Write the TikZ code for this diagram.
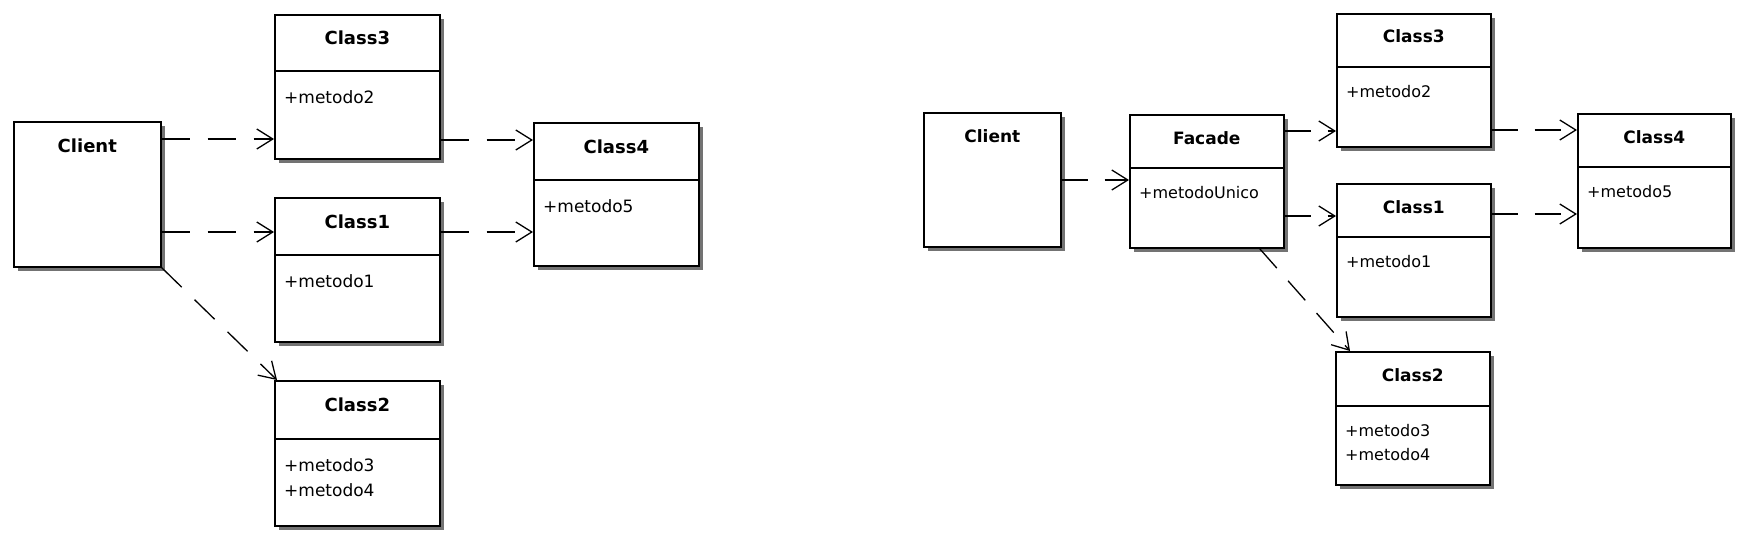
\documentclass[tikz,border=0pt]{standalone}
\usepackage{fontspec}
\setmainfont{DejaVu Sans}
\usetikzlibrary{calc, shadows, arrows.meta}
\tikzstyle{Box} = [draw, line width=1.6pt, fill=white, rectangle, anchor=north west, inner sep=0pt,
  drop shadow={shadow xshift=4.5pt, shadow yshift=-4.5pt, fill=black!55, opacity=1}]
\tikzstyle{Title} = [anchor=base, font=\bfseries\fontsize{18pt}{20pt}\selectfont]
\tikzstyle{Ops} = [anchor=north west, align=left, inner sep=0pt, font=\fontsize{17pt}{25pt}\selectfont]
\tikzstyle{Line} = [line width=1.6pt]
\tikzstyle{Arrow} = [line width=1.3pt, dash pattern=on 28pt off 18pt,
  -{Straight Barb[length=16pt, width=20pt]}]
\newcommand{\titledrop}{31pt}
\newcommand{\opsdrop}{19pt}
% name, position, width, height, divider, title, methods
\newcommand{\umlclass}[7]{%
  \node[Box, minimum width=#3, minimum height=#4] (#1) at #2 {};
  \node[Title] (#1-title) at ([yshift=-\titledrop]#1.north) {#6};
  \draw[Line] ([yshift=-#5]#1.north west) -- ([yshift=-#5]#1.north east);
  \node[Ops] (#1-ops) at ([xshift=10pt, yshift=-#5-\opsdrop]#1.north west) {#7};
}

\begin{document}
\begin{tikzpicture}[x=1pt, y=-1pt]
    \useasboundingbox (0,0) rectangle (1748,535);

    % without facade
    \node[Box, minimum width=147pt, minimum height=145pt] (client) at (13,121) {};
    \node[Title] (client-title) at ([yshift=-\titledrop]client.north) {Client};
    \umlclass{c3}{(274,14)}{165pt}{144pt}{57pt}{Class3}{+metodo2}
    \umlclass{c1}{(274,197)}{165pt}{144pt}{58pt}{Class1}{+metodo1}
    \umlclass{c2}{(274,380)}{165pt}{145pt}{59pt}{Class2}{+metodo3\\+metodo4}
    \umlclass{c4}{(533,122)}{165pt}{143pt}{58pt}{Class4}{+metodo5}

    \draw[Arrow] ([yshift=-18pt]client.north east) -- ([yshift=-125pt]c3.north west);
    \draw[Arrow] ([yshift=-111pt]client.north east) -- ([yshift=-35pt]c1.north west);
    \draw[Arrow] (client.south east) -- ([xshift=3pt]c2.north west);
    \draw[Arrow] ([yshift=-126pt]c3.north east) -- ([yshift=-18pt]c4.north west);
    \draw[Arrow] ([yshift=-35pt]c1.north east) -- ([yshift=-110pt]c4.north west);

    % with facade
    \begin{scope}[Title/.append style={font=\bfseries\fontsize{17pt}{19pt}\selectfont},
        Ops/.append style={font=\fontsize{16pt}{24pt}\selectfont},
        Arrow/.append style={dash pattern=on 26pt off 17pt}]
    \renewcommand{\titledrop}{30pt}
    \renewcommand{\opsdrop}{18pt}
    \node[Box, minimum width=137pt, minimum height=134pt] (clientR) at (923,112) {};
    \node[Title] (clientR-title) at ([yshift=-\titledrop]clientR.north) {Client};
    \umlclass{facade}{(1129,114)}{154pt}{133pt}{54pt}{Facade}{+metodoUnico}
    \umlclass{c3R}{(1336,13)}{154pt}{133pt}{54pt}{Class3}{+metodo2}
    \umlclass{c1R}{(1336,183)}{154pt}{133pt}{54pt}{Class1}{+metodo1}
    \umlclass{c2R}{(1335,351)}{154pt}{133pt}{55pt}{Class2}{+metodo3\\+metodo4}
    \umlclass{c4R}{(1577,113)}{153pt}{134pt}{54pt}{Class4}{+metodo5}

    \draw[Arrow] ([yshift=-68pt]clientR.north east) -- ([yshift=-66pt]facade.north west);
    \draw[Arrow] ([yshift=-17pt]facade.north east) -- ([yshift=-118pt]c3R.north west);
    \draw[Arrow] ([yshift=-102pt]facade.north east) -- ([yshift=-33pt]c1R.north west);
    \draw[Arrow] ([xshift=-25pt]facade.south east) -- ([xshift=15pt]c2R.north west);
    \draw[Arrow] ([yshift=-117pt]c3R.north east) -- ([yshift=-17pt]c4R.north west);
    \draw[Arrow] ([yshift=-31pt]c1R.north east) -- ([yshift=-101pt]c4R.north west);
    \end{scope}
\end{tikzpicture}
\end{document}
